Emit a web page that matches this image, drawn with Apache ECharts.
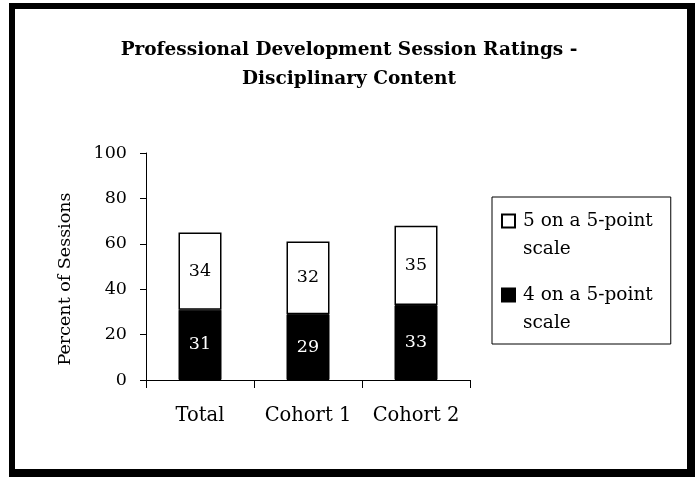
<!DOCTYPE html>
<html><head><meta charset="utf-8">
<script src="https://cdn.jsdelivr.net/npm/echarts@6/dist/echarts.min.js"></script>
<style>html,body{margin:0;padding:0;background:#fff}#c{width:695px;height:477px}</style>
</head><body><div id="c"></div>
<script>
const categories = ["Total", "Cohort 1", "Cohort 2"];
const rating4 = [31, 29, 33];
const rating5 = [34, 32, 35];
const seriesNames = ["5 on a 5-point\nscale", "4 on a 5-point\nscale"];
const yTicks = { min: 0, max: 100, interval: 20 };
const titleLines = ["Professional Development Session Ratings -", "Disciplinary Content"];
const yAxisTitle = "Percent of Sessions";

const serif = "DejaVu Serif";
// legend icon: 13px square on the first text line (extra move-to points widen the box)
const legendIcon = 'path://M0,7.5L13,7.5L13,20.5L0,20.5Z M0,0 M16,56';
const chart = echarts.init(document.getElementById('c'), null, { renderer: 'canvas' });
chart.setOption({
  animation: false,
  backgroundColor: '#fff',
  title: {
    text: titleLines.join('\n'),
    left: 349, top: 36, textAlign: 'center', padding: 0,
    textStyle: { fontFamily: serif, fontWeight: 'bold', fontSize: 18.5, lineHeight: 28.5, color: '#000' }
  },
  legend: {
    orient: 'vertical', left: 492, top: 197,
    data: [seriesNames[0], seriesNames[1]],
    icon: legendIcon, itemWidth: 16, itemHeight: 56, itemGap: 16,
    padding: [9, 18, 6, 9],
    borderColor: '#000', borderWidth: 1,
    textStyle: { fontFamily: serif, fontSize: 18.5, color: '#000', lineHeight: 28 }
  },
  grid: { left: 146, right: 225, top: 153, bottom: 97 },
  xAxis: {
    type: 'category', data: categories,
    axisLine: { lineStyle: { color: '#000', width: 1 } },
    axisTick: { show: true, length: 8, lineStyle: { color: '#000' } },
    axisLabel: { interval: 0, color: '#000', fontFamily: serif, fontSize: 19.5, margin: 26 }
  },
  yAxis: {
    type: 'value', min: yTicks.min, max: yTicks.max, interval: yTicks.interval,
    name: yAxisTitle, nameLocation: 'middle', nameRotate: 90, nameGap: 72,
    nameTextStyle: { fontFamily: serif, fontSize: 17.5, color: '#000', padding: [0, 25, 0, 0] },
    axisLine: { show: true, lineStyle: { color: '#000', width: 1 } },
    axisTick: { show: true, length: 6, lineStyle: { color: '#000' } },
    splitLine: { show: false },
    axisLabel: { color: '#000', fontFamily: serif, fontSize: 17.5, margin: 19 }
  },
  series: [
    {
      name: seriesNames[1], type: 'bar', stack: 's', data: rating4, barWidth: 43,
      itemStyle: { color: '#000', borderColor: '#000', borderWidth: 1 },
      label: { show: true, position: 'inside', color: '#fff', fontFamily: serif, fontSize: 17.5 }
    },
    {
      name: seriesNames[0], type: 'bar', stack: 's', data: rating5, barWidth: 43,
      itemStyle: { color: '#fff', borderColor: '#000', borderWidth: 1.5 },
      label: { show: true, position: 'inside', color: '#000', fontFamily: serif, fontSize: 17.5 }
    }
  ],
  graphic: [
    { type: 'rect', shape: { x: 9, y: 3, width: 6, height: 474 }, style: { fill: '#000' } },
    { type: 'rect', shape: { x: 9, y: 3, width: 686, height: 6 }, style: { fill: '#000' } },
    { type: 'rect', shape: { x: 687, y: 3, width: 8, height: 474 }, style: { fill: '#000' } },
    { type: 'rect', shape: { x: 9, y: 469, width: 686, height: 8 }, style: { fill: '#000' } }
  ]
});
</script></body></html>
